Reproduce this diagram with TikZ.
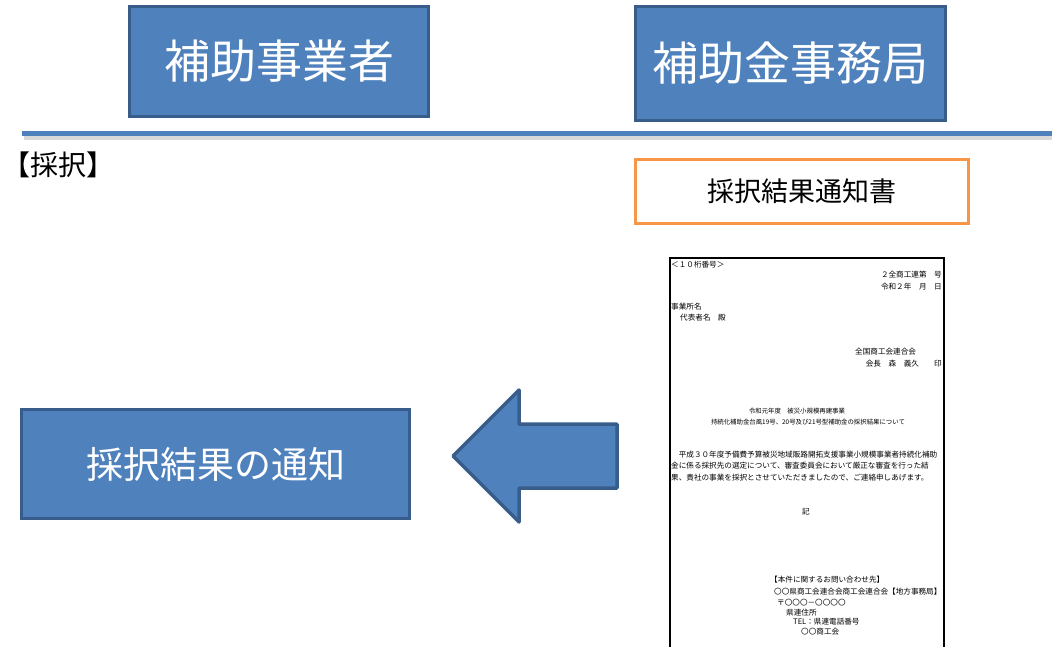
\documentclass[tikz,border=0pt]{standalone}
\usepackage{fontspec}
\setmainfont{Noto Sans CJK JP}
\usepackage{xcolor}
\definecolor{boxblue}{HTML}{4F81BD}
\definecolor{boxedge}{HTML}{385D8A}
\definecolor{noteorange}{HTML}{F79646}

\begin{document}
\begin{tikzpicture}[x=1pt,y=-1pt,
  actor/.style={draw=boxedge,line width=3.5pt,fill=boxblue,text=white,inner sep=0pt},
  docline/.style={font=\fontsize{7.6}{9}\selectfont,inner sep=0pt},
  doctitle/.style={font=\fontsize{6.4}{8}\selectfont,inner sep=0pt}]
  \useasboundingbox (0,0) rectangle (1052,646);

  % Headers
  \node[actor,minimum width=299pt,minimum height=110pt,font=\fontsize{46}{50}\selectfont]
    (jigyosha) at (279,61.5) {補助事業者};
  \node[actor,minimum width=310pt,minimum height=114pt,font=\fontsize{46}{50}\selectfont]
    (jimukyoku) at (790.5,63.5) {補助金事務局};

  % Divider
  \draw[line width=4pt,gray!30] (24,138) -- (1052,138);
  \draw[line width=5pt,boxblue] (22,133) -- (1052,133);

  % Step label
  \node[anchor=west,inner sep=0pt,font=\fontsize{28}{30}\selectfont] (step) at (2,165) {【採択】};

  % Notice
  \node[draw=noteorange,line width=3.5pt,fill=white,minimum width=333pt,minimum height=64pt,
    font=\fontsize{27}{30}\selectfont] (notice) at (802,191.5) {採択結果通知書};

  % Document sheet
  \draw[line width=1.5pt,fill=white] (670,258) rectangle (944,656);
  \node[docline,anchor=west] (d1) at (671,265) {＜１０桁番号＞};
  \node[docline,anchor=east] (d2) at (942,275) {２全商工連第　号};
  \node[docline,anchor=east] (d3) at (942,287) {令和２年　月　日};
  \node[docline,anchor=west] (d4) at (671,307) {事業所名};
  \node[docline,anchor=west] (d5) at (680,318) {代表者名　殿};
  \node[docline,anchor=west] (d6) at (855,352) {全国商工会連合会};
  \node[docline,anchor=east] (d7) at (942,364) {会長　森　義久　　印};
  \node[doctitle] (t1) at (797,411) {令和元年度　被災小規模再建事業};
  \node[doctitle] (t2) at (808,422) {持続化補助金台風19号、20号及び21号型補助金の採択結果について};
  \node[docline,anchor=west] (p1) at (671,455) {　平成３０年度予備費予算被災地域販路開拓支援事業小規模事業者持続化補助};
  \node[docline,anchor=west] (p2) at (671,466) {金に係る採択先の選定について、審査委員会において厳正な審査を行った結};
  \node[docline,anchor=west] (p3) at (671,478) {果、貴社の事業を採択とさせていただきましたので、ご連絡申しあげます。};
  \node[docline] (ki) at (806,512) {記};
  \node[docline,anchor=west] (c1) at (770,580) {【本件に関するお問い合わせ先】};
  \node[docline,anchor=west] (c2) at (774,592) {〇〇県商工会連合会商工会連合会【地方事務局】};
  \node[docline,anchor=west] (c3) at (777,603) {〒〇〇〇－〇〇〇〇};
  \node[docline,anchor=west] (c4) at (786,613) {県連住所};
  \node[docline,anchor=west] (c5) at (793,622) {TEL：県連電話番号};
  \node[docline,anchor=west] (c6) at (801,632) {〇〇商工会};

  % Result
  \node[actor,minimum width=388pt,minimum height=109pt,font=\fontsize{37}{40}\selectfont]
    (kekka) at (215.5,464) {採択結果の通知};

  % Block arrow
  \draw[boxedge,fill=boxblue,line width=3.5pt,line join=round]
    (453,456) -- (519,390) -- (519,424) -- (617,424) -- (617,488)
    -- (519,488) -- (519,522) -- cycle;
\end{tikzpicture}
\end{document}
